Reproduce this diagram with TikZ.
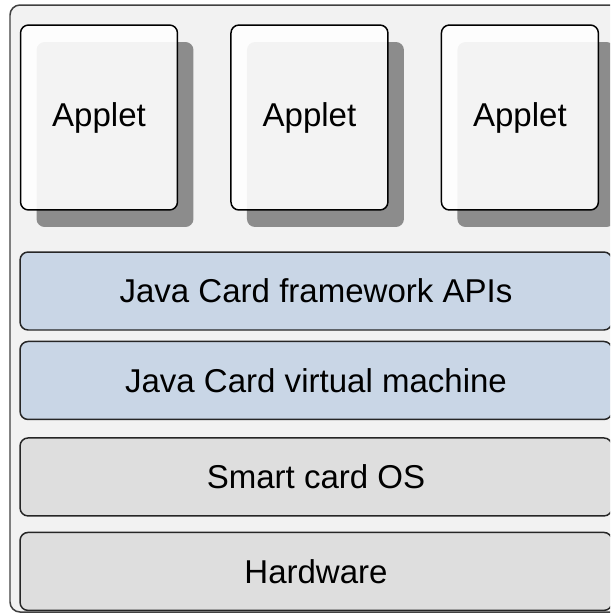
\documentclass[tikz,border=0pt]{standalone}
\usepackage{fontspec}
\setmainfont{Liberation Sans}
\usetikzlibrary{positioning,shadows}

\definecolor{cardbg}{HTML}{F2F2F2}
\definecolor{javablue}{HTML}{C9D6E6}
\definecolor{osgrey}{HTML}{DEDEDE}
\definecolor{shadowgrey}{HTML}{8C8C8C}

\begin{document}
\begin{tikzpicture}[x=0.02cm, y=-0.02cm,
    every node/.style={font=\fontsize{18.8}{22}\selectfont},
    applet/.style={draw=black, line width=0.85pt, rounded corners=0.16cm,
        fill=white, fill opacity=0.9, text opacity=1,
        minimum width=3.14cm, minimum height=3.7cm, inner sep=0pt,
        drop shadow={shadow xshift=0.32cm, shadow yshift=-0.34cm,
            fill=shadowgrey, opacity=1}},
    layer/.style={draw=black!85, line width=0.85pt, rounded corners=0.16cm,
        minimum width=11.84cm, minimum height=1.56cm, inner sep=0pt}]
\useasboundingbox (0,0) rectangle (610,613);
\clip (0,0) rectangle (610,613);

% card frame
\draw[draw=black!75, line width=0.85pt, fill=cardbg, rounded corners=0.2cm]
    (10,5) rectangle (650,612);

% applets
\node[applet] (applet1) at (99,117.5) {Applet};
\node[applet, right=1.04cm of applet1] (applet2) {Applet};
\node[applet, right=1.04cm of applet2] (applet3) {Applet};

% layers
\node[layer, fill=javablue] (framework) at (316,291) {Java Card framework APIs};
\node[layer, fill=javablue, below=0.2cm of framework] (vm) {Java Card virtual machine};
\node[layer, fill=osgrey, below=0.34cm of vm] (os) {Smart card OS};
\node[layer, fill=osgrey, below=0.3cm of os] (hardware) {Hardware};
\end{tikzpicture}
\end{document}
